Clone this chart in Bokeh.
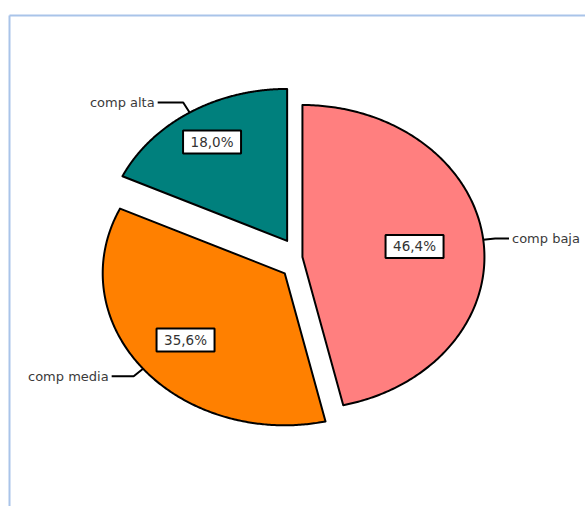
import numpy as np
from bokeh.plotting import figure
from bokeh.models import Range1d
from bokeh.embed import file_html
from bokeh.resources import INLINE
from bokeh.core.properties import value

# ---- data ----
categories = ["comp baja", "comp media", "comp alta"]
percents = [46.4, 35.6, 18.0]
colors = ["#FF7F7F", "#FF8000", "#00807D"]

# ---- layout / style ----
W, H = 585, 506
CX, CY = 292, 259          # pie centre (pixel-like data units)
RX, RY = 182, 152          # ellipse radii
EX, EY = 10, 22            # explode offsets
label_frac = [0.62, 0.70, 0.77]
FONT = "DejaVu Sans"

p = figure(width=W, height=H, x_range=Range1d(0, W), y_range=Range1d(H, 0),
           output_backend="svg", toolbar_location=None, min_border=0)
p.axis.visible = False
p.grid.visible = False
p.outline_line_color = None
p.background_fill_color = "white"
p.border_fill_color = "white"

# light blue frame (top & left visible)
p.segment(x0=[9, 9], y0=[15, 15], x1=[9, 640], y1=[560, 15],
          line_color="#A9C4E9", line_width=2)

fr = np.array(percents) / sum(percents)
ends = np.cumsum(fr) * 2 * np.pi
starts = ends - fr * 2 * np.pi
mids = (starts + ends) / 2

xs, ys = [], []
centres = []
for a0, a1, m in zip(starts, ends, mids):
    cx = CX + EX * np.sin(m)
    cy = CY - EY * np.cos(m)
    centres.append((cx, cy))
    t = np.linspace(a0, a1, 240)
    xs.append(np.concatenate([[cx], cx + RX * np.sin(t), [cx]]).tolist())
    ys.append(np.concatenate([[cy], cy - RY * np.cos(t), [cy]]).tolist())

p.patches(xs, ys, fill_color=colors, line_color="black", line_width=2,
          line_join="round")

# leader lines + category labels
lx, ly, tx, ty, talign, ttext = [], [], [], [], [], []
for (cx, cy), m, name in zip(centres, mids, categories):
    s, c = np.sin(m), np.cos(m)
    ex, ey = cx + RX * s, cy - RY * c
    side = 1 if s > 0 else -1
    bx, by = ex + 12 * s, ey - 12 * c
    hx = bx + side * (12 + 16 * abs(c))
    lx.append([ex, bx, hx])
    ly.append([ey, by, by])
    tx.append(hx + side * 3)
    ty.append(by)
    talign.append("left" if side > 0 else "right")
    ttext.append(name)

p.multi_line(lx, ly, line_color="black", line_width=2)
for x, y, a, t in zip(tx, ty, talign, ttext):
    p.text(x=[x], y=[y], text=[t], text_align=a, text_baseline="middle",
           text_font=value(FONT), text_font_size="13px", text_color="#3a3a3a")

# percentage boxes
px, py, ptxt = [], [], []
for (cx, cy), m, f, v in zip(centres, mids, label_frac, percents):
    px.append(cx + f * RX * np.sin(m))
    py.append(cy - f * RY * np.cos(m))
    ptxt.append(f"{v:.1f}".replace(".", ",") + "%")

p.rect(x=px, y=py, width=58, height=23, width_units="screen", height_units="screen",
       fill_color="white", line_color="black", line_width=2)
p.text(x=px, y=py, text=ptxt, text_align="center", text_baseline="middle",
       text_font=value(FONT), text_font_size="13.5px", text_color="#333333")

open("out.html", "w").write(file_html(p, INLINE))
